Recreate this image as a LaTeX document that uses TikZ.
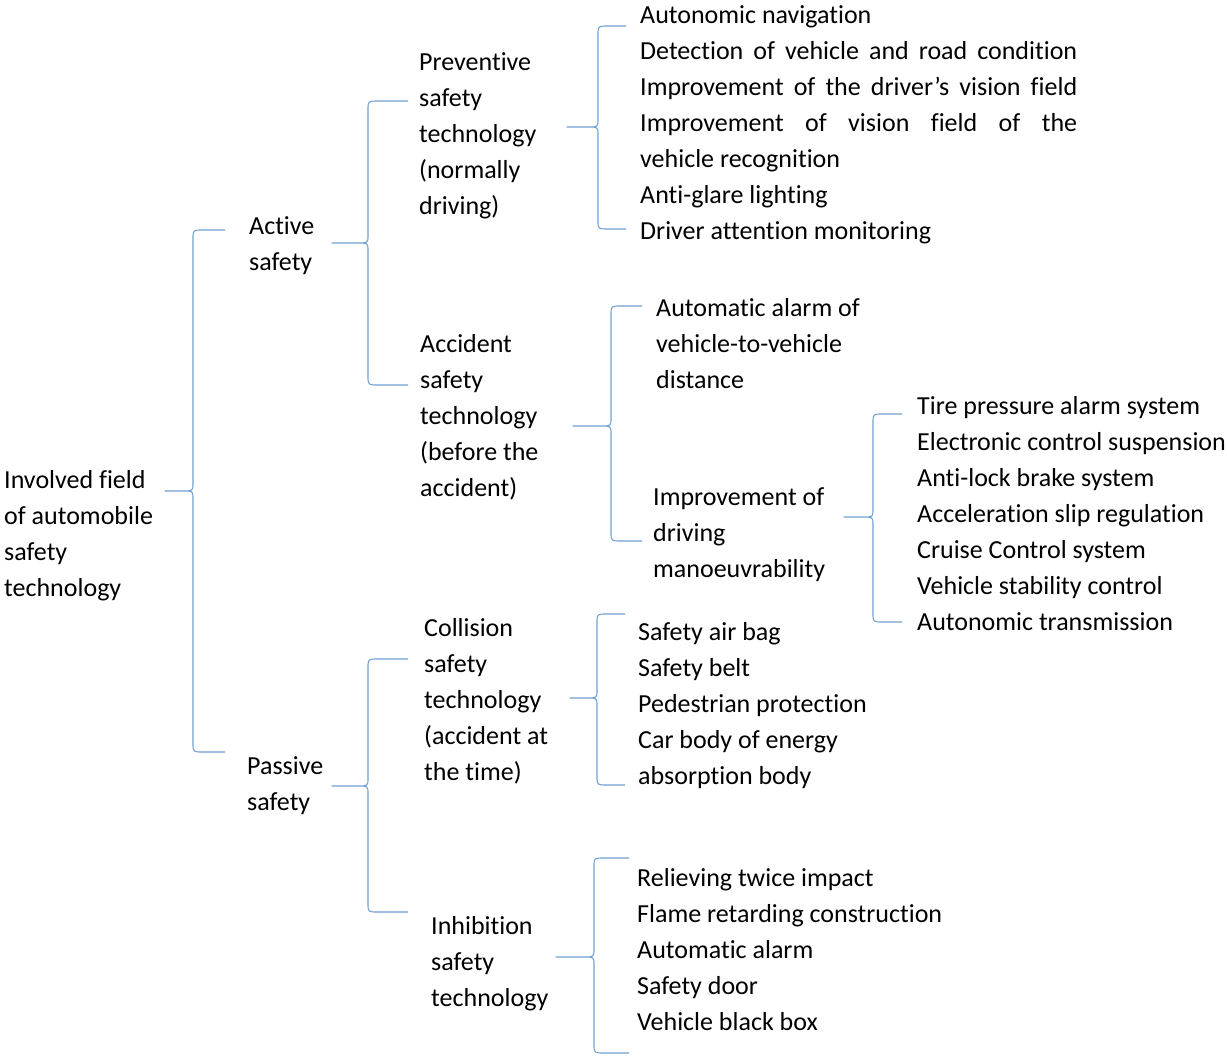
\documentclass[tikz,border=0pt]{standalone}
\usepackage{fontspec}
\setmainfont{Carlito}[Ligatures={NoCommon}]
\usepackage{tikz}
\usetikzlibrary{calc}
\definecolor{bracecol}{RGB}{110,160,210}

% brace: end x, top y, line x, tip x, tip y, bottom y
\newcommand{\curlybrace}[6]{%
  \draw[brace] (#1,#2) -- (#3+10,#2) .. controls (#3,#2) .. (#3,#2+9)
    -- (#3,#5-8) .. controls (#3,#5) .. (#3-10,#5) -- (#4,#5)
    -- (#3-10,#5) .. controls (#3,#5) .. (#3,#5+8)
    -- (#3,#6-9) .. controls (#3,#6) .. (#3+10,#6) -- (#1,#6);}
% justified line of the first list
\newcommand{\fullline}[1]{\makebox[437pt][s]{#1}}

\begin{document}
\begin{tikzpicture}[x=1pt,y=-1pt,
    txt/.style={anchor=north west, inner sep=0pt, align=left,
        font=\fontsize{26}{36}\selectfont,
        execute at begin node=\strut},
    brace/.style={draw=bracecol, line width=1.1pt, line join=round}]
    \useasboundingbox (0,0) rectangle (1227,1057);

    % tree text
    \node [txt] (root) at (4,480-10) {Involved field\\of automobile\\safety\\technology};
    \node [txt] (active) at (249,226-10) {Active\\safety};
    \node [txt] (passive) at (247,766-10) {Passive\\safety};
    \node [txt] (prev) at (419,62-10) {Preventive\\safety\\technology\\(normally\\driving)};
    \node [txt] (accid) at (420,344-10) {Accident\\safety\\technology\\(before the\\accident)};
    \node [txt] (collis) at (424,628-10) {Collision\\safety\\technology\\(accident at\\the time)};
    \node [txt] (inhib) at (431,926-10) {Inhibition\\safety\\technology};

    % leaves
    \node [txt] (prevlist) at (640,15-10) {Autonomic navigation\\
        \fullline{Detection of vehicle and road condition}\\
        \fullline{Improvement of the driver’s vision field}\\
        \fullline{Improvement of vision field of the}\\
        vehicle recognition\\
        Anti-glare lighting\\
        Driver attention monitoring};
    \node [txt] (alarm) at (656,308-10) {Automatic alarm of\\vehicle-to-vehicle\\distance};
    \node [txt] (improve) at (653,497-10) {Improvement of\\driving\\manoeuvrability};
    \node [txt] (improvelist) at (917,406-10) {Tire pressure alarm system\\
        Electronic control suspension\\
        Anti-lock brake system\\
        Acceleration slip regulation\\
        Cruise Control system\\
        Vehicle stability control\\
        Autonomic transmission};
    \node [txt] (collislist) at (638,632-10) {Safety air bag\\
        Safety belt\\
        Pedestrian protection\\
        Car body of energy\\
        absorption body};
    \node [txt] (inhiblist) at (637,878-10) {Relieving twice impact\\
        Flame retarding construction\\
        Automatic alarm\\
        Safety door\\
        Vehicle black box};

    % braces
    \curlybrace{225}{230}{193}{165}{491}{752}
    \curlybrace{408}{101}{368}{332}{243}{385}
    \curlybrace{408}{659}{368}{332}{786}{912}
    \curlybrace{626}{26}{598}{567}{127}{229}
    \curlybrace{642}{306}{611}{573}{426}{541}
    \curlybrace{902}{414}{873}{844}{517}{622}
    \curlybrace{625}{614}{597}{570}{698}{785}
    \curlybrace{629}{858}{594}{556}{957}{1053}
\end{tikzpicture}
\end{document}
